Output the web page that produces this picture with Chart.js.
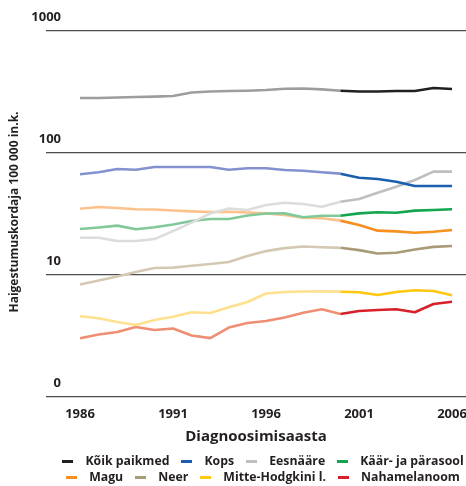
<!DOCTYPE html>
<html>
<head>
<meta charset="utf-8">
<script src="https://cdn.jsdelivr.net/npm/chart.js@4.4.1/dist/chart.umd.min.js"></script>
<style>
    body { margin: 0; background: #fff; }
    #wrap { position: relative; width: 466px; height: 486px; }
    #legend { position: absolute; left: 60px; right: 0; top: 453px; font: 700 12.3px "Open Sans"; color: #231f20; }
    .row { display: flex; justify-content: center; height: 16px; line-height: 16px; }
    .item { display: flex; align-items: center; margin: 0 6px; white-space: nowrap; }
    .sw { width: 11px; height: 3px; margin-right: 12px; }
</style>
</head>
<body>
<div id="wrap">
    <canvas id="chart" width="466" height="486"></canvas>
    <div id="legend"></div>
</div>
<script>
// Data
const years = [1986, 1987, 1988, 1989, 1990, 1991, 1992, 1993, 1994, 1995, 1996,
               1997, 1998, 1999, 2000, 2001, 2002, 2003, 2004, 2005, 2006];
const koikPaikmed = [282, 282, 285, 288, 290, 293, 313, 319, 322, 324, 328, 336, 338, 332, 324, 319, 319, 322, 322, 341, 335];
const kops = [66.9, 69.5, 73.9, 73.0, 76.8, 76.8, 76.8, 76.8, 73.0, 74.9, 74.9, 72.6, 71.6, 69.5, 67.7, 62.7, 61.2, 58.2, 53.6, 53.6, 53.6];
const eesnaare = [20.2, 20.2, 19.0, 19.0, 19.7, 22.9, 26.9, 31.9, 35.1, 34.1, 37.5, 39.1, 38.2, 36.3, 39.9, 42.0, 47.3, 52.9, 60.1, 70.3, 70.3];
const kaarParasool = [23.8, 24.5, 25.4, 23.7, 24.6, 25.9, 27.7, 28.8, 28.8, 30.7, 31.9, 32.0, 29.7, 30.6, 30.6, 32.0, 32.7, 32.4, 33.7, 34.1, 34.6];
const magu = [34.9, 36.1, 35.4, 34.6, 34.4, 33.8, 33.2, 32.8, 33.0, 32.5, 32.0, 31.0, 29.5, 29.2, 27.9, 25.7, 23.1, 22.8, 22.2, 22.6, 23.4];
const neer = [8.36, 9.01, 9.72, 10.6, 11.4, 11.5, 11.9, 12.3, 12.8, 14.3, 15.7, 16.6, 17.1, 16.9, 16.7, 16.0, 15.0, 15.2, 16.2, 17.0, 17.3];
const mitteHodgkini = [4.59, 4.42, 4.12, 3.89, 4.28, 4.55, 4.95, 4.88, 5.44, 6.01, 7.05, 7.26, 7.32, 7.35, 7.30, 7.22, 6.86, 7.26, 7.49, 7.39, 6.82];
const nahamelanoom = [3.03, 3.25, 3.41, 3.75, 3.54, 3.64, 3.19, 3.04, 3.71, 4.04, 4.20, 4.48, 4.91, 5.24, 4.79, 5.07, 5.17, 5.24, 4.95, 5.78, 6.04];

const seriesNames = ['Kõik paikmed', 'Kops', 'Eesnääre', 'Käär- ja pärasool',
                     'Magu', 'Neer', 'Mitte-Hodgkini l.', 'Nahamelanoom'];
const seriesValues = [koikPaikmed, kops, eesnaare, kaarParasool, magu, neer, mitteHodgkini, nahamelanoom];

const xTicks = [1986, 1991, 1996, 2001, 2006];
const yTicks = [1, 10, 100, 1000];
const yTickLabels = ['0', '10', '100', '1000'];
const splitYear = 2000;

// colours: before 2000 / from 2000
const lightColors = ['#9d9d9f', '#8391cf', '#dcdcdc', '#82c99a', '#fdc28c', '#d3c9b2', '#fee08e', '#ee8e72'];
const darkColors = ['#231f20', '#1a5fae', '#bfbfc1', '#14a64f', '#f7901e', '#a99b78', '#fdc80f', '#d8202a'];

const splitIndex = years.indexOf(splitYear);

const datasets = seriesValues.map((vals, i) => ({
    label: seriesNames[i],
    data: years.map((yr, j) => ({ x: yr, y: vals[j] })),
    borderColor: lightColors[i],
    borderWidth: 2.6,
    pointRadius: 0,
    tension: 0,
    borderJoinStyle: 'round',
    segment: {
        borderColor: c => c.p0DataIndex >= splitIndex ? darkColors[i] : lightColors[i]
    }
}));

// y labels sit above the gridlines, plus the rotated axis title
const yLabelPlugin = {
    id: 'yLabelPlugin',
    afterDraw(chart) {
        const ctx = chart.ctx;
        const y = chart.scales.y;
        ctx.save();
        ctx.fillStyle = '#231f20';
        ctx.font = '700 13px "Open Sans"';
        ctx.textAlign = 'right';
        ctx.textBaseline = 'middle';
        yTicks.forEach((v, i) => {
            ctx.fillText(yTickLabels[i], 61, y.getPixelForValue(v) - 14);
        });
        ctx.translate(15, 212);
        ctx.rotate(-Math.PI / 2);
        ctx.textAlign = 'center';
        ctx.font = '700 12px "Open Sans"';
        ctx.fillText('Haigestumuskordaja 100 000 in.k.', 0, 0);
        ctx.restore();
    }
};

new Chart(document.getElementById('chart'), {
    type: 'line',
    data: { datasets: datasets },
    plugins: [yLabelPlugin],
    options: {
        responsive: false,
        animation: false,
        layout: { padding: { left: 46, right: 0, top: 31, bottom: 40 } },
        plugins: {
            legend: { display: false },
            tooltip: { enabled: false }
        },
        scales: {
            x: {
                type: 'linear',
                min: 1984.17,
                max: 2006.75,
                afterBuildTicks: s => { s.ticks = xTicks.map(v => ({ value: v })); },
                afterFit: s => {
                    s.height = 49;
                    s.paddingLeft = 0;
                    s.paddingRight = 0;
                },
                grid: { display: false, drawTicks: false },
                border: { display: false },
                ticks: {
                    padding: 9,
                    maxRotation: 0,
                    color: '#231f20',
                    font: { family: 'Open Sans', weight: '700', size: 13 },
                    callback: v => String(v)
                },
                title: {
                    display: true,
                    text: 'Diagnoosimisaasta',
                    color: '#231f20',
                    padding: { top: 6, bottom: 0 },
                    font: { family: 'Open Sans', weight: '700', size: 15 }
                }
            },
            y: {
                type: 'logarithmic',
                min: 1,
                max: 1000,
                afterBuildTicks: s => { s.ticks = yTicks.map(v => ({ value: v })); },
                border: { display: false },
                grid: { color: '#4d4d4f', lineWidth: 1.3, drawTicks: false },
                ticks: { display: false }
            }
        }
    }
});

// legend, two rows as in the reference
const legend = document.getElementById('legend');
[[0, 4], [4, 8]].forEach(([a, b]) => {
    const row = document.createElement('div');
    row.className = 'row';
    for (let i = a; i < b; i++) {
        const item = document.createElement('div');
        item.className = 'item';
        const sw = document.createElement('span');
        sw.className = 'sw';
        sw.style.background = darkColors[i];
        item.appendChild(sw);
        item.appendChild(document.createTextNode(seriesNames[i]));
        row.appendChild(item);
    }
    legend.appendChild(row);
});
</script>
</body>
</html>
